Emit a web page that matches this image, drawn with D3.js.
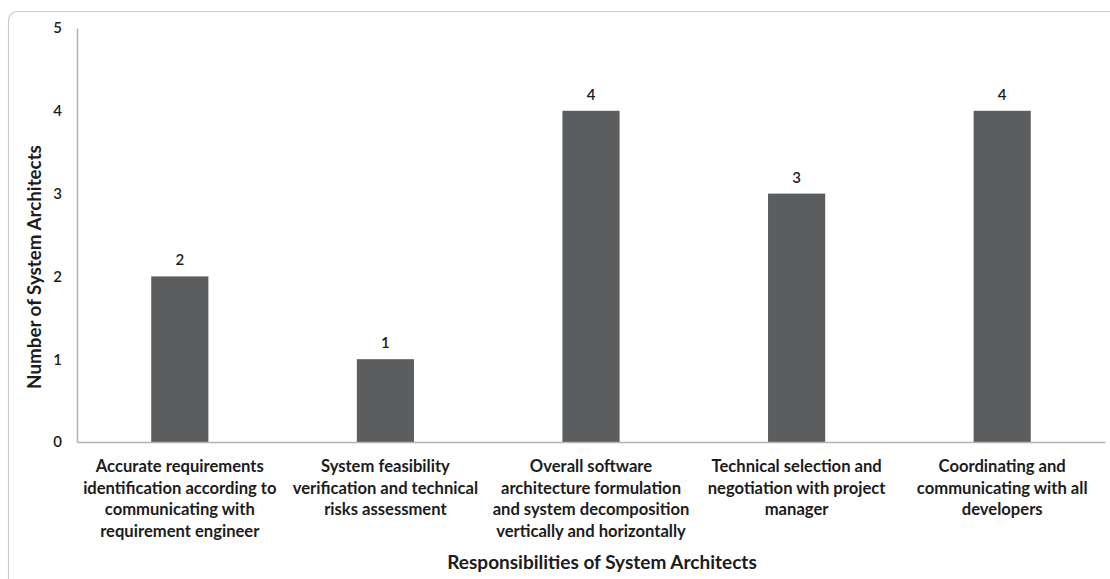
<!DOCTYPE html>
<html>
<head>
<meta charset="utf-8">
<script src="https://cdn.jsdelivr.net/npm/d3@7"></script>
<style>
  html, body { margin: 0; padding: 0; background: #fff; }
  svg { display: block; }
  text { font-family: Lato, "Open Sans", sans-serif; fill: #1c1c1c; }
</style>
</head>
<body>
<svg id="chart" width="1110" height="579"></svg>
<script>
// Responsibilities (multi-line category labels) and how many architects named each
const categories = [
  ["Accurate requirements", "identification according to", "communicating with", "requirement engineer"],
  ["System feasibility", "verification and technical", "risks assessment"],
  ["Overall software", "architecture formulation", "and system decomposition", "vertically and horizontally"],
  ["Technical selection and", "negotiation with project", "manager"],
  ["Coordinating and", "communicating with all", "developers"]
];
const counts = [2, 1, 4, 3, 4];
const yTicks = [0, 1, 2, 3, 4, 5];
const xTitle = "Responsibilities of System Architects";
const yTitle = "Number of System Architects";

const svg = d3.select("#chart");
const W = 1110, H = 579;
const plot = { left: 77, right: 1105, top: 28, bottom: 442 };

// outer frame with rounded corner
svg.append("rect")
  .attr("x", 8.5).attr("y", 11.5)
  .attr("width", W + 20).attr("height", H + 20)
  .attr("rx", 9)
  .attr("fill", "#fff")
  .attr("stroke", "#c9c9c9")
  .attr("stroke-width", 1.2);

const idx = counts.map((_, i) => i);
const x = d3.scaleBand()
  .domain(idx)
  .range([plot.left, plot.right])
  .paddingInner(0.722)
  .paddingOuter(0.361);

const y = d3.scaleLinear().domain([0, 5]).range([plot.bottom, plot.top]);

// bars
svg.append("g").selectAll("rect")
  .data(counts)
  .join("rect")
  .attr("x", (d, i) => x(i))
  .attr("y", d => y(d))
  .attr("width", x.bandwidth())
  .attr("height", d => y(0) - y(d))
  .attr("fill", "#5c5d5f");

// value labels
svg.append("g").selectAll("text")
  .data(counts)
  .join("text")
  .attr("x", (d, i) => x(i) + x.bandwidth() / 2)
  .attr("y", d => y(d) - 11)
  .attr("text-anchor", "middle")
  .attr("font-size", 15)
  .attr("font-weight", 600)
  .text(d => d);

// y axis
const yAxis = svg.append("g")
  .attr("transform", `translate(${plot.left},0)`)
  .call(d3.axisLeft(y).tickValues(yTicks).tickSize(0).tickPadding(15).tickFormat(d3.format("d")));
yAxis.select(".domain").attr("stroke", "#b4b4b4").attr("stroke-width", 1.6);
yAxis.selectAll("text")
  .attr("font-size", 15)
  .attr("font-weight", 600)
  .attr("fill", "#1c1c1c")
  .style("font-family", "Lato, sans-serif");

// x axis baseline
const xAxis = svg.append("g")
  .attr("transform", `translate(0,${plot.bottom})`)
  .call(d3.axisBottom(x).tickSize(0).tickFormat(""));
xAxis.select(".domain").attr("stroke", "#b4b4b4").attr("stroke-width", 1.6);

// category labels
const catG = svg.append("g");
categories.forEach((lines, i) => {
  const t = catG.append("text")
    .attr("x", x(i) + x.bandwidth() / 2)
    .attr("y", 472)
    .attr("text-anchor", "middle")
    .attr("font-size", 16.6)
    .attr("font-weight", 700);
  lines.forEach((ln, j) => {
    t.append("tspan")
      .attr("x", x(i) + x.bandwidth() / 2)
      .attr("dy", j === 0 ? 0 : 21.7)
      .text(ln);
  });
});

// axis titles
svg.append("text")
  .attr("x", 602).attr("y", 569)
  .attr("text-anchor", "middle")
  .attr("font-size", 19)
  .attr("font-weight", 700)
  .text(xTitle);

svg.append("text")
  .attr("transform", "translate(41,267) rotate(-90)")
  .attr("text-anchor", "middle")
  .attr("font-size", 18.8)
  .attr("font-weight", 700)
  .text(yTitle);
</script>
</body>
</html>
